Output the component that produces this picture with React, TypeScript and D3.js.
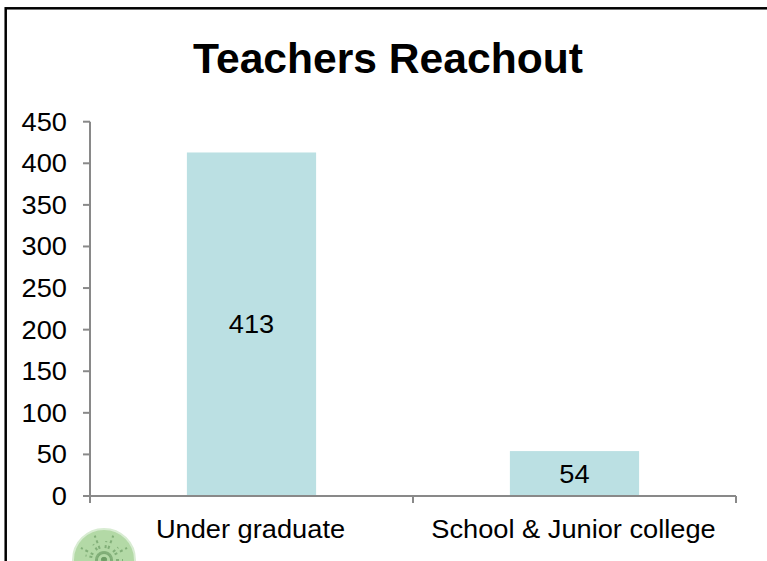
import { useMemo } from 'react';
import * as d3 from 'd3';

const categories = ['Under graduate', 'School & Junior college'];
const teachers = [413, 54];
const yTicks = [0, 50, 100, 150, 200, 250, 300, 350, 400, 450];

const W = 767;
const H = 561;
const margin = { top: 121.7, right: 31, bottom: 65, left: 90 };
const axisColor = '#898989';
const barColor = '#BBE0E3';
const font = 'Arial, "Liberation Sans", sans-serif';
const stretch = 1.09;

export default function App() {
  const x = useMemo(
    () => d3.scaleBand<string>().domain(categories).range([margin.left, W - margin.right]).padding(0),
    []
  );
  const y = useMemo(
    () => d3.scaleLinear().domain([0, 450]).range([H - margin.bottom, margin.top]),
    []
  );

  const barW = x.bandwidth() * 0.4;
  const y0 = y(0);

  // leaf texture strokes for the little tree logo
  const leaves = d3.range(14).map((i) => {
    const a = -Math.PI + (i / 13) * Math.PI;
    return { a, r: 12 + (i % 3) * 7 };
  });

  return (
    <svg
      width={W}
      height={H}
      style={{ position: 'absolute', left: 0, top: 0, background: '#fff' }}
      fontFamily={font}
    >
      {/* outer frame, only top & left visible */}
      <rect x={5.7} y={8.3} width={W + 20} height={H + 20} fill="#fff" stroke="#000" strokeWidth={2.5} />

      <text x={388} y={73} textAnchor="middle" fontSize={42.6} fontWeight="bold" fill="#000">
        Teachers Reachout
      </text>

      {/* bars */}
      {teachers.map((v, i) => {
        const cx = (x(categories[i]) || 0) + x.bandwidth() / 2;
        const top = y(v);
        return (
          <g key={categories[i]}>
            <rect x={cx - barW / 2} y={top} width={barW} height={y0 - top} fill={barColor} />
            <text
              transform={`translate(${cx},${(top + y0) / 2 + 9}) scale(${stretch},1)`}
              textAnchor="middle"
              fontSize={25}
              fill="#000"
            >
              {v}
            </text>
          </g>
        );
      })}

      {/* y axis */}
      <line x1={margin.left} x2={margin.left} y1={y(450)} y2={y0} stroke={axisColor} strokeWidth={2} />
      {yTicks.map((t) => (
        <g key={t}>
          <line x1={margin.left - 7} x2={margin.left} y1={y(t)} y2={y(t)} stroke={axisColor} strokeWidth={2} />
          <text
            transform={`translate(${margin.left - 23},${y(t) + 9}) scale(${stretch},1)`}
            textAnchor="end"
            fontSize={25}
            fill="#000"
          >
            {t}
          </text>
        </g>
      ))}

      {/* x axis */}
      <line x1={margin.left - 7} x2={W - margin.right} y1={y0} y2={y0} stroke={axisColor} strokeWidth={2} />
      {[...categories.map((c) => x(c) || 0), W - margin.right].map((px, i) => (
        <line key={i} x1={px} x2={px} y1={y0} y2={y0 + 7} stroke={axisColor} strokeWidth={2} />
      ))}
      {categories.map((c) => (
        <text
          key={c}
          transform={`translate(${(x(c) || 0) + x.bandwidth() / 2 - 1},538) scale(${stretch},1)`}
          textAnchor="middle"
          fontSize={25}
          fill="#000"
        >
          {c}
        </text>
      ))}

      {/* logo: small green tree */}
      <g transform="translate(104,560)">
        <circle r={31} fill="#b3d9a6" />
        {leaves.map((l, i) => (
          <line
            key={i}
            x1={0}
            y1={0}
            x2={Math.cos(l.a) * l.r}
            y2={Math.sin(l.a) * l.r}
            stroke="#6e9e66"
            strokeWidth={2}
            strokeDasharray="3 3"
            opacity={0.7}
          />
        ))}
        <circle r={31} fill="none" stroke="#d8ecd2" strokeWidth={2} />
      </g>
    </svg>
  );
}
